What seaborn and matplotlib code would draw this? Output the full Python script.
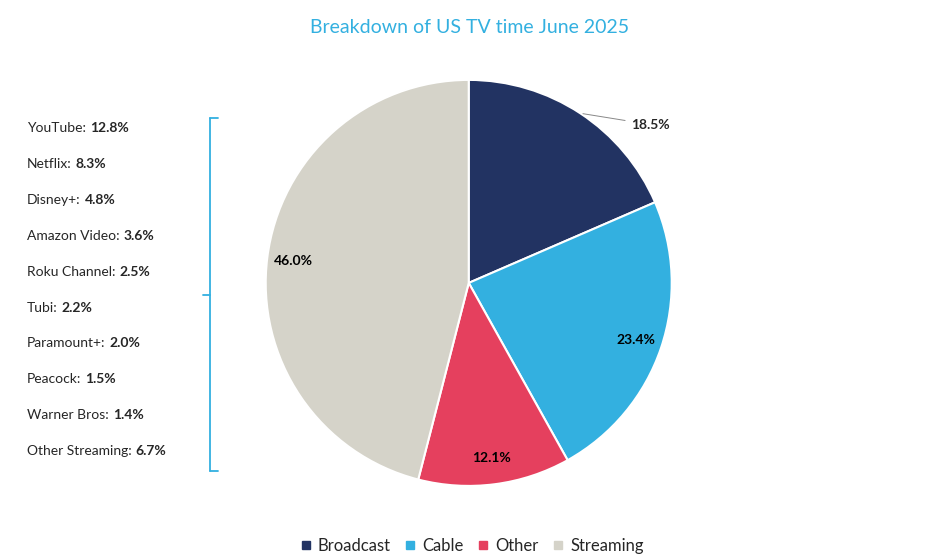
import numpy as np
import matplotlib
matplotlib.use("Agg")
import matplotlib.pyplot as plt
import seaborn as sns

sns.set_theme(style="white")
plt.rcParams['font.family'] = ['Lato', 'DejaVu Sans']

# --- datos ---
categorias = ["Broadcast", "Cable", "Other", "Streaming"]
valores = [18.5, 23.4, 12.1, 46.0]
colores = ["#223362", "#33B0E0", "#E5405E", "#D5D3C9"]
servicios = ["YouTube", "Netflix", "Disney+", "Amazon Video", "Roku Channel",
             "Tubi", "Paramount+", "Peacock", "Warner Bros", "Other Streaming"]
servicios_pct = [12.8, 8.3, 4.8, 3.6, 2.5, 2.2, 2.0, 1.5, 1.4, 6.7]

fig = plt.figure(figsize=(9.3, 5.58), dpi=100)
ax = fig.add_axes([0.504 - 0.2183, 0.493 - 0.3638, 0.4366, 0.7276])

wedges, texts, autotexts = ax.pie(valores, colors=colores, startangle=90, counterclock=False,
                                  autopct="%.1f%%", pctdistance=0.87,
                                  wedgeprops=dict(edgecolor="white", linewidth=1.5),
                                  textprops=dict(fontsize=10, fontweight="bold", color="black"))
ax.set_aspect("equal")
ax.set_xlim(-1, 1)
ax.set_ylim(-1, 1)

# primera etiqueta fuera del pastel con línea
w = wedges[0]
ang = np.deg2rad((w.theta1 + w.theta2) / 2)
autotexts[0].set_visible(False)
ax.annotate(autotexts[0].get_text(), xy=(np.cos(ang), np.sin(ang)), xytext=(0.8, 0.78),
            fontsize=10, fontweight="bold", ha="left", va="center",
            arrowprops=dict(arrowstyle="-", color="#888888", lw=0.7), annotation_clip=False)

fig.text(0.505, 0.95, "Breakdown of US TV time June 2025", ha="center", va="center",
         fontsize=14, color="#33B0E0")

# lista de servicios de streaming
fig.canvas.draw()
r = fig.canvas.get_renderer()
y0, paso = 1 - 128 / 558, 35.9 / 558
for i, (s, p) in enumerate(zip(servicios, servicios_pct)):
    y = y0 - i * paso
    t = fig.text(27 / 930, y, s + ":", ha="left", va="center", fontsize=10)
    bb = t.get_window_extent(r)
    fig.text((bb.x1 + 4) / 930, y, f"{p:.1f}%", ha="left", va="center", fontsize=10, fontweight="bold")

# corchete
c = "#33B0E0"
xs = 210 / 930
top, bot, mid = 1 - 118 / 558, 1 - 471 / 558, 1 - 295 / 558
fig.add_artist(plt.Line2D([xs, xs], [bot, top], color=c, lw=1.3))
fig.add_artist(plt.Line2D([xs, 218 / 930], [top, top], color=c, lw=1.3))
fig.add_artist(plt.Line2D([xs, 218 / 930], [bot, bot], color=c, lw=1.3))
fig.add_artist(plt.Line2D([203 / 930, xs], [mid, mid], color=c, lw=1.3))

handles = [plt.Line2D([], [], marker="s", ls="", color=col, markersize=6) for col in colores]
fig.legend(handles, categorias, loc="center", bbox_to_anchor=(0.505, 1 - 546 / 558), ncol=4,
           frameon=False, fontsize=12, handletextpad=0.1, columnspacing=0.6, handlelength=1.2)

fig.savefig("out.png", dpi=100)
